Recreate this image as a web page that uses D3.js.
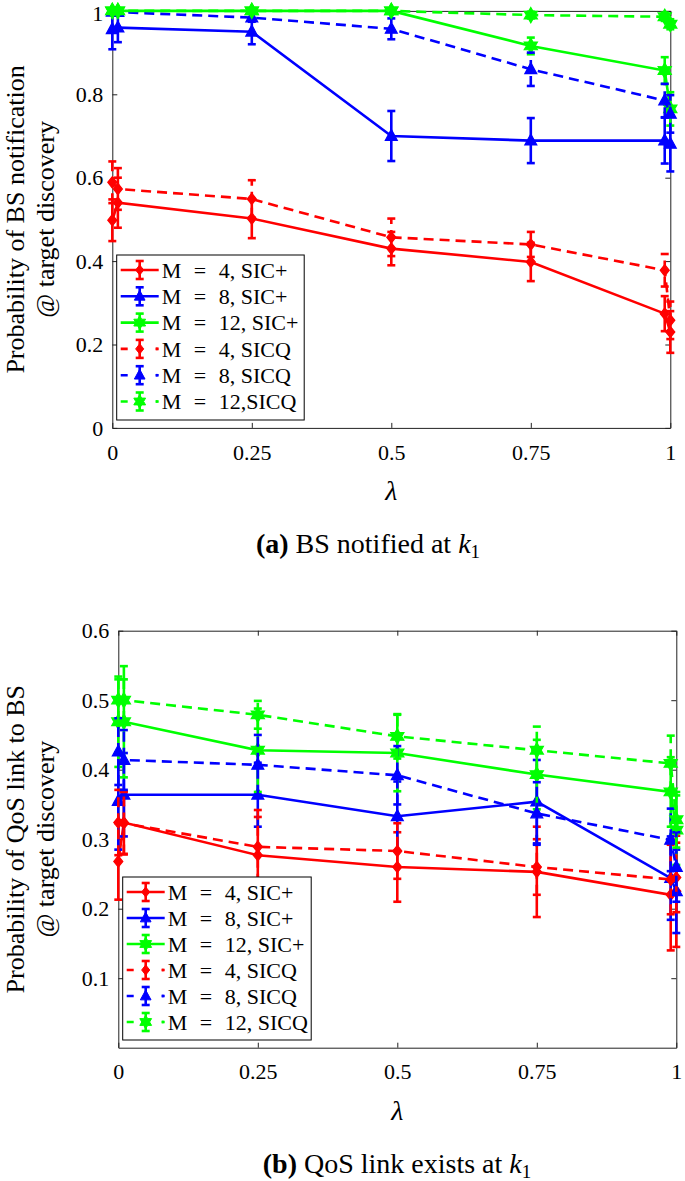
<!DOCTYPE html>
<html><head><meta charset="utf-8">
<script src="https://cdn.jsdelivr.net/npm/d3@7"></script>
<style>body{margin:0;background:#fff}svg{display:block}</style>
</head><body>
<svg id="c" width="685" height="1181"></svg>
<script>
// ---------- data ----------
const lambdaValues = [0, 0.01, 0.25, 0.5, 0.75, 0.99, 1];
const xTickValues = [0, 0.25, 0.5, 0.75, 1];
const xTickLabels = ["0", "0.25", "0.5", "0.75", "1"];
const yTickValuesA = [0, 0.2, 0.4, 0.6, 0.8, 1];
const yTickLabelsA = ["0", "0.2", "0.4", "0.6", "0.8", "1"];
const yTickValuesB = [0.1, 0.2, 0.3, 0.4, 0.5, 0.6];
const yTickLabelsB = ["0.1", "0.2", "0.3", "0.4", "0.5", "0.6"];
const legendLabelsA = ["M = 4, SIC+", "M = 8, SIC+", "M = 12, SIC+", "M = 4, SICQ", "M = 8, SICQ", "M = 12,SICQ"];
const legendLabelsB = ["M = 4, SIC+", "M = 8, SIC+", "M = 12, SIC+", "M = 4, SICQ", "M = 8, SICQ", "M = 12, SICQ"];

// panel (a): BS notified
const bsM4SicPlus     = [0.498, 0.540, 0.502, 0.430, 0.398, 0.274, 0.230];
const bsM4SicPlusErr  = [0.050, 0.060, 0.047, 0.040, 0.046, 0.042, 0.050];
const bsM8SicPlus     = [0.956, 0.960, 0.950, 0.700, 0.689, 0.689, 0.681];
const bsM8SicPlusErr  = [0.048, 0.035, 0.030, 0.060, 0.054, 0.055, 0.066];
const bsM12SicPlus    = [1.000, 1.000, 1.000, 1.000, 0.916, 0.857, 0.765];
const bsM12SicPlusErr = [0.000, 0.000, 0.003, 0.003, 0.020, 0.032, 0.040];
const bsM4Sicq        = [0.589, 0.573, 0.549, 0.457, 0.440, 0.378, 0.258];
const bsM4SicqErr     = [0.050, 0.050, 0.045, 0.045, 0.030, 0.039, 0.045];
const bsM8Sicq        = [0.998, 0.997, 0.984, 0.957, 0.860, 0.785, 0.753];
const bsM8SicqErr     = [0.005, 0.005, 0.010, 0.025, 0.040, 0.040, 0.045];
const bsM12Sicq       = [1.000, 1.000, 1.000, 1.000, 0.990, 0.986, 0.968];
const bsM12SicqErr    = [0.000, 0.000, 0.000, 0.000, 0.008, 0.010, 0.012];

// panel (b): QoS link exists
const qosM4SicPlus     = [0.268, 0.324, 0.277, 0.260, 0.253, 0.220, 0.225];
const qosM4SicPlusErr  = [0.055, 0.045, 0.055, 0.050, 0.065, 0.080, 0.080];
const qosM8SicPlus     = [0.355, 0.364, 0.364, 0.333, 0.354, 0.244, 0.225];
const qosM8SicPlusErr  = [0.070, 0.060, 0.046, 0.050, 0.060, 0.060, 0.060];
const qosM12SicPlus    = [0.469, 0.469, 0.428, 0.424, 0.393, 0.368, 0.313];
const qosM12SicPlusErr = [0.065, 0.080, 0.060, 0.055, 0.050, 0.050, 0.050];
const qosM4Sicq        = [0.324, 0.323, 0.289, 0.283, 0.260, 0.242, 0.245];
const qosM4SicqErr     = [0.047, 0.045, 0.053, 0.040, 0.040, 0.050, 0.050];
const qosM8Sicq        = [0.426, 0.414, 0.407, 0.392, 0.337, 0.299, 0.260];
const qosM8SicqErr     = [0.048, 0.043, 0.043, 0.042, 0.045, 0.045, 0.050];
const qosM12Sicq       = [0.500, 0.500, 0.479, 0.448, 0.428, 0.409, 0.328];
const qosM12SicqErr    = [0.030, 0.030, 0.020, 0.032, 0.034, 0.040, 0.040];

// ---------- styles ----------
const FONT = "'Liberation Serif','Times New Roman',serif";
const RED = "#ff0000", BLUE = "#0000ff", GREEN = "#00ff00";
const DASH = "10,6";
const symDiamond = { draw(ctx, size) { const r = Math.sqrt(size); ctx.moveTo(0, -r); ctx.lineTo(r * 0.8, 0); ctx.lineTo(0, r); ctx.lineTo(-r * 0.8, 0); ctx.closePath(); } };
const symTriangle = { draw(ctx, size) { const r = Math.sqrt(size); ctx.moveTo(0, -r); ctx.lineTo(r * 0.9, r * 0.65); ctx.lineTo(-r * 0.9, r * 0.65); ctx.closePath(); } };
const symHexagram = { draw(ctx, size) { const r = Math.sqrt(size); for (let i = 0; i < 12; i++) { const a = -Math.PI / 2 + i * Math.PI / 6; const rr = i % 2 ? r * 0.577 : r; const px = rr * Math.cos(a), py = rr * Math.sin(a); if (i === 0) ctx.moveTo(px, py); else ctx.lineTo(px, py); } ctx.closePath(); } };
const styles = [
  { color: RED, sym: symDiamond, size: 32, dashed: false },
  { color: BLUE, sym: symTriangle, size: 44, dashed: false },
  { color: GREEN, sym: symHexagram, size: 58, dashed: false },
  { color: RED, sym: symDiamond, size: 32, dashed: true },
  { color: BLUE, sym: symTriangle, size: 44, dashed: true },
  { color: GREEN, sym: symHexagram, size: 58, dashed: true }
];

const svg = d3.select("#c");

function drawPanel(o) {
  const x = d3.scaleLinear().domain([0, 1]).range([o.left, o.right]);
  const y = d3.scaleLinear().domain(o.yDomain).range([o.bottom, o.top]);
  const g = svg.append("g");

  // axes with inward ticks
  const bottomAxis = d3.axisBottom(x).tickValues(xTickValues).tickFormat((d, i) => xTickLabels[i]).tickSizeInner(-5).tickSizeOuter(0);
  const topAxis = d3.axisTop(x).tickValues(xTickValues).tickFormat("").tickSizeInner(-5).tickSizeOuter(0);
  const leftAxis = d3.axisLeft(y).tickValues(o.yTicks).tickFormat((d, i) => o.yLabels[i]).tickSizeInner(-5).tickSizeOuter(0).tickPadding(9);
  const rightAxis = d3.axisRight(y).tickValues(o.yTicks).tickFormat("").tickSizeInner(-5).tickSizeOuter(0);
  const gb = g.append("g").attr("transform", `translate(0,${o.bottom})`).call(bottomAxis);
  gb.selectAll("text").attr("y", 24).attr("dy", "0.35em");
  g.append("g").attr("transform", `translate(0,${o.top})`).call(topAxis);
  const gl = g.append("g").attr("transform", `translate(${o.left},0)`).call(leftAxis);
  gl.selectAll("text").attr("dy", d => (y(d) < 14 ? "0.45em" : "0.33em"));
  g.append("g").attr("transform", `translate(${o.right},0)`).call(rightAxis);
  g.selectAll(".domain, .tick line").attr("stroke", "#222").attr("stroke-width", 1);
  g.selectAll(".tick text").attr("font-family", FONT).attr("font-size", 22).attr("fill", "#000");

  // series
  const line = d3.line().x((d, i) => x(lambdaValues[i])).y(d => y(d));
  o.series.forEach((s, k) => {
    const st = styles[k];
    const sg = g.append("g");
    sg.append("path").datum(s.values).attr("d", line).attr("fill", "none")
      .attr("stroke", st.color).attr("stroke-width", 2.6)
      .attr("stroke-dasharray", st.dashed ? DASH : null);
    const pts = s.values.map((v, i) => ({ lx: lambdaValues[i], v, e: s.errs[i] }));
    const eb = sg.selectAll(".eb").data(pts).enter().append("g");
    eb.append("line").attr("x1", d => x(d.lx)).attr("x2", d => x(d.lx))
      .attr("y1", d => y(d.v - d.e)).attr("y2", d => y(d.v + d.e))
      .attr("stroke", st.color).attr("stroke-width", 2.6)
      .attr("stroke-dasharray", st.dashed ? DASH : null);
    [-1, 1].forEach(sgn => {
      eb.append("line").attr("x1", d => x(d.lx) - 4).attr("x2", d => x(d.lx) + 4)
        .attr("y1", d => y(d.v + sgn * d.e)).attr("y2", d => y(d.v + sgn * d.e))
        .attr("stroke", st.color).attr("stroke-width", 2.6);
    });
    sg.selectAll(".mk").data(pts).enter().append("path")
      .attr("d", d3.symbol().type(st.sym).size(st.size))
      .attr("transform", d => `translate(${x(d.lx)},${y(d.v)})`)
      .attr("fill", st.color).attr("stroke", st.color).attr("stroke-width", 1.2);
  });

  // legend
  const L = o.legend;
  const lg = g.append("g");
  lg.append("rect").attr("x", L.x).attr("y", L.y).attr("width", L.w).attr("height", L.h)
    .attr("fill", "#fff").attr("stroke", "#000").attr("stroke-width", 1);
  o.legendLabels.forEach((lab, k) => {
    const st = styles[k];
    const cy = L.y + 15 + k * L.step;
    const x0 = L.x + 4, x1 = L.x + 42, xc = (x0 + x1) / 2;
    lg.append("line").attr("x1", x0).attr("x2", x1).attr("y1", cy).attr("y2", cy)
      .attr("stroke", st.color).attr("stroke-width", 2.6).attr("stroke-dasharray", st.dashed ? "7,28" : null);
    if (st.dashed) lg.append("line").attr("x1", x1 - 3).attr("x2", x1 - 1).attr("y1", cy).attr("y2", cy)
      .attr("stroke", st.color).attr("stroke-width", 2.6);
    lg.append("line").attr("x1", xc).attr("x2", xc).attr("y1", cy - 9).attr("y2", cy + 9)
      .attr("stroke", st.color).attr("stroke-width", 2.6);
    [-9, 9].forEach(dy => lg.append("line").attr("x1", xc - 4).attr("x2", xc + 4).attr("y1", cy + dy).attr("y2", cy + dy)
      .attr("stroke", st.color).attr("stroke-width", 2.6));
    lg.append("path").attr("d", d3.symbol().type(st.sym).size(st.size * 0.8)())
      .attr("transform", `translate(${xc},${cy})`).attr("fill", st.color).attr("stroke", st.color);
    const parts = lab.split(", ").length > 1 ? [lab.slice(0, lab.indexOf(",") + 1), lab.slice(lab.indexOf(",") + 1)] : [lab, ""];
    const t = lg.append("text").attr("x", L.x + 45).attr("y", cy).attr("dy", "0.35em")
      .attr("font-family", FONT).attr("font-size", 22);
    t.append("tspan").style("word-spacing", "7px").text(parts[0]);
    t.append("tspan").text(parts[1]);
  });

  // y label (two lines)
  const cy = (o.top + o.bottom) / 2;
  o.yTitle.forEach((t, i) => {
    g.append("text").attr("transform", `translate(${15 + 30 * i},${cy}) rotate(-90)`)
      .attr("text-anchor", "middle").attr("dy", "0.35em")
      .attr("font-family", FONT).attr("font-size", 26).text(t);
  });
  // x label
  g.append("text").attr("x", (o.left + o.right) / 2).attr("y", o.bottom + 62).attr("dy", "0.35em")
    .attr("text-anchor", "middle").attr("font-family", FONT).attr("font-style", "italic").attr("font-size", 28).text("λ");
  // caption
  const cap = g.append("text").attr("x", o.capX).attr("y", o.bottom + 115).attr("dy", "0.35em")
    .attr("text-anchor", "middle").attr("font-family", FONT).attr("font-size", 28);
  cap.append("tspan").attr("font-weight", "bold").text(o.capTag);
  cap.append("tspan").text(" " + o.capText + " ");
  cap.append("tspan").attr("font-style", "italic").text("k");
  cap.append("tspan").attr("font-size", 19).attr("dy", 5).text("1");
}

drawPanel({
  left: 112.3, right: 670.3, top: 10.9, bottom: 427.9, yDomain: [0, 1],
  yTicks: yTickValuesA, yLabels: yTickLabelsA,
  series: [
    { values: bsM4SicPlus, errs: bsM4SicPlusErr },
    { values: bsM8SicPlus, errs: bsM8SicPlusErr },
    { values: bsM12SicPlus, errs: bsM12SicPlusErr },
    { values: bsM4Sicq, errs: bsM4SicqErr },
    { values: bsM8Sicq, errs: bsM8SicqErr },
    { values: bsM12Sicq, errs: bsM12SicqErr }
  ],
  legend: { x: 116.7, y: 255, w: 187.5, h: 165, step: 26.3 },
  legendLabels: legendLabelsA,
  yTitle: ["Probability of BS notification", "@ target discovery"],
  capTag: "(a)", capText: "BS notified at", capX: 368
});

drawPanel({
  left: 118.3, right: 676.3, top: 630.7, bottom: 1047.7, yDomain: [0, 0.6],
  yTicks: yTickValuesB, yLabels: yTickLabelsB,
  series: [
    { values: qosM4SicPlus, errs: qosM4SicPlusErr },
    { values: qosM8SicPlus, errs: qosM8SicPlusErr },
    { values: qosM12SicPlus, errs: qosM12SicPlusErr },
    { values: qosM4Sicq, errs: qosM4SicqErr },
    { values: qosM8Sicq, errs: qosM8SicqErr },
    { values: qosM12Sicq, errs: qosM12SicqErr }
  ],
  legend: { x: 122.7, y: 877, w: 188.5, h: 163, step: 26 },
  legendLabels: legendLabelsB,
  yTitle: ["Probability of QoS link to BS", "@ target discovery"],
  capTag: "(b)", capText: "QoS link exists at", capX: 397
});
</script>
</body></html>
